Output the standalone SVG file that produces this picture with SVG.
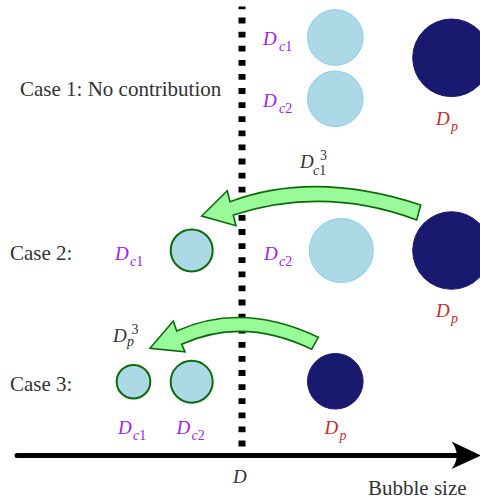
<svg xmlns="http://www.w3.org/2000/svg" width="480" height="502" viewBox="0 0 480 502" font-family="Liberation Serif, serif">
<style>
text{font-family:'Liberation Serif',serif}
.lbl{font-size:21px;fill:#333}
.m{font-size:19px;font-style:italic}
.s{font-size:14px}
.it{font-style:italic}
.pur{fill:#A020F0}
.red{fill:#C62D2D}
.dk{fill:#333}
.cl{fill:#ADD8E6;stroke:#87CEEB;stroke-width:1}
.cg{fill:#ADD8E6;stroke:#0B6B0B;stroke-width:2}
.cp{fill:#191970;stroke:#191970;stroke-width:1}
.arr{fill:#98FB98;stroke:#0B6B0B;stroke-width:1.6;stroke-linejoin:miter}
</style>
<rect width="480" height="502" fill="#fff"/>
<g id="connectors">
<line x1="242" y1="6.5" x2="242" y2="454" stroke="#000" stroke-width="7" stroke-dasharray="5.8 8.3" stroke-dashoffset="3"/>
<line x1="17" y1="455.5" x2="458" y2="455.5" stroke="#000" stroke-width="5" stroke-linecap="round"/>
<path d="M481 455.5 L451.5 441.5 Q462 455.5 451.5 469 Z" fill="#000"/>
<path class="arr" d="M420.7 205 Q314.6 170 230 201.7 L227.3 190.7 L201.7 216 L236 225.7 L233.3 215 Q325 185.5 416.7 220 Z"/>
<path class="arr" d="M318.3 337.3 Q242.5 301.2 176.7 331 L173.3 321 L150 348.3 L185 351.7 L181.7 344.3 Q243.3 316.2 311.7 349.3 Z"/>
</g>
<g id="case1">
<text class="lbl" x="20" y="96">Case 1: No contribution</text>
<circle class="cl" cx="335.3" cy="37.5" r="27.8"/>
<circle class="cl" cx="335.3" cy="98.8" r="27.8"/>
<circle class="cp" cx="451.5" cy="57.8" r="38.8"/>
<text class="m pur" x="263" y="44.5">D</text><text class="s pur" x="279" y="50.5"><tspan class="it">c</tspan>1</text>
<text class="m pur" x="263" y="106.5">D</text><text class="s pur" x="279" y="112.5"><tspan class="it">c</tspan>2</text>
<text class="m red" x="436" y="124.5">D</text><text class="s red it" x="451" y="130.5">p</text>
</g>
<g id="case2">
<text class="lbl" x="10" y="260">Case 2:</text>
<circle class="cg" cx="191.7" cy="250.4" r="21"/>
<circle class="cl" cx="341.3" cy="250.5" r="32"/>
<circle class="cp" cx="451.5" cy="250.5" r="38.8"/>
<text class="m pur" x="115" y="260">D</text><text class="s pur" x="130" y="266"><tspan class="it">c</tspan>1</text>
<text class="m pur" x="264" y="260">D</text><text class="s pur" x="279" y="266"><tspan class="it">c</tspan>2</text>
<text class="m red" x="436" y="316.5">D</text><text class="s red it" x="451" y="322.5">p</text>
<text class="m dk" x="300" y="168.3">D</text><text class="s dk" x="320" y="160">3</text><text class="s dk" x="313" y="175"><tspan class="it">c</tspan>1</text>
</g>
<g id="case3">
<text class="lbl" x="10" y="391">Case 3:</text>
<circle class="cg" cx="133.5" cy="381.7" r="16.8"/>
<circle class="cg" cx="191.7" cy="381.7" r="21"/>
<circle class="cp" cx="335.3" cy="381.3" r="27.8"/>
<text class="m pur" x="118" y="434">D</text><text class="s pur" x="133" y="440"><tspan class="it">c</tspan>1</text>
<text class="m pur" x="176.5" y="434">D</text><text class="s pur" x="191.5" y="440"><tspan class="it">c</tspan>2</text>
<text class="m red" x="324.5" y="434">D</text><text class="s red it" x="339.5" y="440">p</text>
<text class="m dk" x="113" y="341.5">D</text><text class="s dk" x="131.5" y="334">3</text><text class="s dk it" x="127" y="346">p</text>
</g>
<g id="axis-labels">
<text class="m dk" x="233" y="483">D</text>
<text class="lbl" x="368" y="495">Bubble size</text>
</g>
</svg>
